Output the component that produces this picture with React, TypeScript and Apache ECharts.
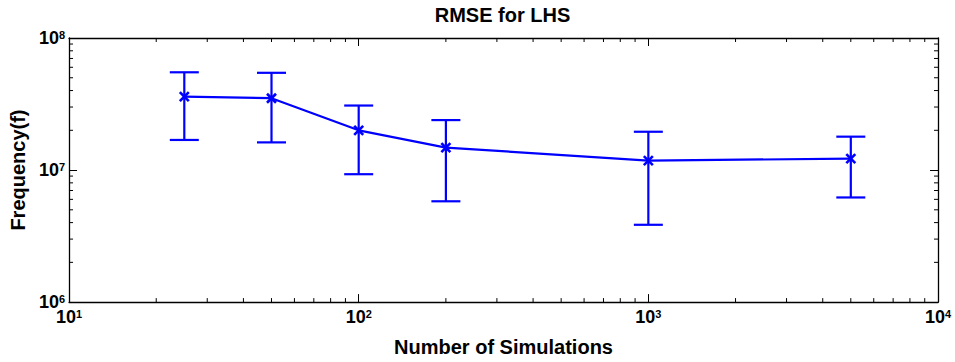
import React, { useEffect, useRef } from "react";
import * as echarts from "echarts";

const simulations = [25, 50, 100, 200, 1000, 5000];
const rmseMean = [3.6e7, 3.5e7, 2.0e7, 1.48e7, 1.18e7, 1.22e7];
const rmseUpper = [5.5e7, 5.45e7, 3.08e7, 2.39e7, 1.95e7, 1.79e7];
const rmseLower = [1.69e7, 1.62e7, 9.3e6, 5.8e6, 3.85e6, 6.2e6];

const xMin = 10;
const xMax = 1e4;
const yMin = 1e6;
const yMax = 1e8;

const FONT = "'Liberation Sans', Arial, Helvetica, sans-serif";
const BLUE = "#0000ff";

function minorTicks(lo: number, hi: number): number[] {
  const out: number[] = [];
  for (let d = lo; d < hi; d *= 10) {
    for (let k = 2; k <= 9; k++) out.push(Math.round(d * k));
  }
  return out;
}

const labelFormatter = (v: number) => `{b|10}{s|${Math.round(Math.log10(v))}}`;
const richLabels = {
  b: { fontSize: 18, fontWeight: "bold", fontFamily: FONT, color: "#000", lineHeight: 18, padding: [6, 0, 6, 0] },
  s: { fontSize: 11, fontWeight: "bold", fontFamily: FONT, color: "#000", lineHeight: 12, verticalAlign: "top" },
};

export default function App() {
  const ref = useRef<HTMLDivElement>(null);
  useEffect(() => {
    if (!ref.current) return;
    const chart = echarts.init(ref.current, undefined, { renderer: "svg" });
    const axisLine = { show: true, onZero: false, lineStyle: { color: "#000", width: 1.3 } };
    const axisTick = { show: true, inside: true, length: 8, lineStyle: { color: "#000", width: 1 } };
    const xMinor = minorTicks(xMin, xMax).map((v) => [v, yMin]);
    const yMinor = minorTicks(yMin, yMax).map((v) => [xMin, v]);
    const errData = simulations.map((s, i) => [s, rmseLower[i], rmseUpper[i], rmseMean[i]]);
    const nameStyle = { fontSize: 20, fontWeight: "bold", fontFamily: FONT, color: "#000" };

    chart.setOption({
      animation: false,
      backgroundColor: "#fff",
      grid: { left: 67, right: 17, top: 38, bottom: 55, containLabel: false },
      graphic: [
        {
          type: "text",
          x: 502.5,
          y: 15,
          style: {
            text: "RMSE for LHS",
            textAlign: "center",
            textVerticalAlign: "middle",
            font: `bold 20px ${FONT}`,
            fill: "#000",
          },
        },
      ],
      xAxis: [
        {
          type: "log",
          logBase: 10,
          min: xMin,
          max: xMax,
          position: "bottom",
          name: "Number of Simulations",
          nameLocation: "middle",
          nameGap: 31,
          nameTextStyle: nameStyle,
          axisLine,
          axisTick,
          splitLine: { show: false },
          axisLabel: { show: true, margin: 6, formatter: labelFormatter, rich: richLabels },
        },
        {
          type: "log",
          logBase: 10,
          min: xMin,
          max: xMax,
          position: "top",
          axisLine,
          axisTick,
          splitLine: { show: false },
          axisLabel: { show: false },
        },
      ],
      yAxis: [
        {
          type: "log",
          logBase: 10,
          min: yMin,
          max: yMax,
          position: "left",
          name: "Frequency(f)",
          nameLocation: "middle",
          nameGap: 34,
          nameRotate: 90,
          nameTextStyle: nameStyle,
          axisLine,
          axisTick,
          splitLine: { show: false },
          axisLabel: { show: true, margin: 4, formatter: labelFormatter, rich: richLabels },
        },
        {
          type: "log",
          logBase: 10,
          min: yMin,
          max: yMax,
          position: "right",
          axisLine,
          axisTick,
          splitLine: { show: false },
          axisLabel: { show: false },
        },
      ],
      series: [
        {
          type: "custom",
          name: "xMinor",
          silent: true,
          data: xMinor,
          encode: { x: 0, y: 1 },
          renderItem: (params: any, api: any) => {
            const b = api.coord([api.value(0), yMin]);
            const t = api.coord([api.value(0), yMax]);
            const st = { stroke: "#000", lineWidth: 1 };
            return {
              type: "group",
              children: [
                { type: "line", shape: { x1: b[0], y1: b[1], x2: b[0], y2: b[1] - 4 }, style: st },
                { type: "line", shape: { x1: t[0], y1: t[1], x2: t[0], y2: t[1] + 4 }, style: st },
              ],
            };
          },
        },
        {
          type: "custom",
          name: "yMinor",
          silent: true,
          data: yMinor,
          encode: { x: 0, y: 1 },
          renderItem: (params: any, api: any) => {
            const l = api.coord([xMin, api.value(1)]);
            const r = api.coord([xMax, api.value(1)]);
            const st = { stroke: "#000", lineWidth: 1 };
            return {
              type: "group",
              children: [
                { type: "line", shape: { x1: l[0], y1: l[1], x2: l[0] + 4, y2: l[1] }, style: st },
                { type: "line", shape: { x1: r[0], y1: r[1], x2: r[0] - 4, y2: r[1] }, style: st },
              ],
            };
          },
        },
        {
          type: "line",
          name: "RMSE",
          data: simulations.map((s, i) => [s, rmseMean[i]]),
          symbol: "none",
          lineStyle: { color: BLUE, width: 2.2 },
          itemStyle: { color: BLUE },
          z: 3,
        },
        {
          type: "custom",
          name: "errors",
          data: errData,
          encode: { x: 0, y: [1, 2, 3] },
          z: 4,
          renderItem: (params: any, api: any) => {
            const x = api.value(0);
            const lo = api.coord([x, api.value(1)]);
            const hi = api.coord([x, api.value(2)]);
            const m = api.coord([x, api.value(3)]);
            const cw = 14.5;
            const ms = 4.5;
            const st = { stroke: BLUE, lineWidth: 2.2, fill: "none" };
            const mst = { stroke: BLUE, lineWidth: 2.6, fill: "none" };
            return {
              type: "group",
              children: [
                { type: "line", shape: { x1: lo[0], y1: lo[1], x2: hi[0], y2: hi[1] }, style: st },
                { type: "line", shape: { x1: hi[0] - cw, y1: hi[1], x2: hi[0] + cw, y2: hi[1] }, style: st },
                { type: "line", shape: { x1: lo[0] - cw, y1: lo[1], x2: lo[0] + cw, y2: lo[1] }, style: st },
                { type: "line", shape: { x1: m[0] - ms, y1: m[1] - ms, x2: m[0] + ms, y2: m[1] + ms }, style: mst },
                { type: "line", shape: { x1: m[0] - ms, y1: m[1] + ms, x2: m[0] + ms, y2: m[1] - ms }, style: mst },
              ],
            };
          },
        },
      ],
    });
    return () => chart.dispose();
  }, []);

  return (
    <div
      ref={ref}
      style={{ position: "fixed", left: 0, top: 0, width: 955, height: 362, background: "#fff" }}
    />
  );
}
